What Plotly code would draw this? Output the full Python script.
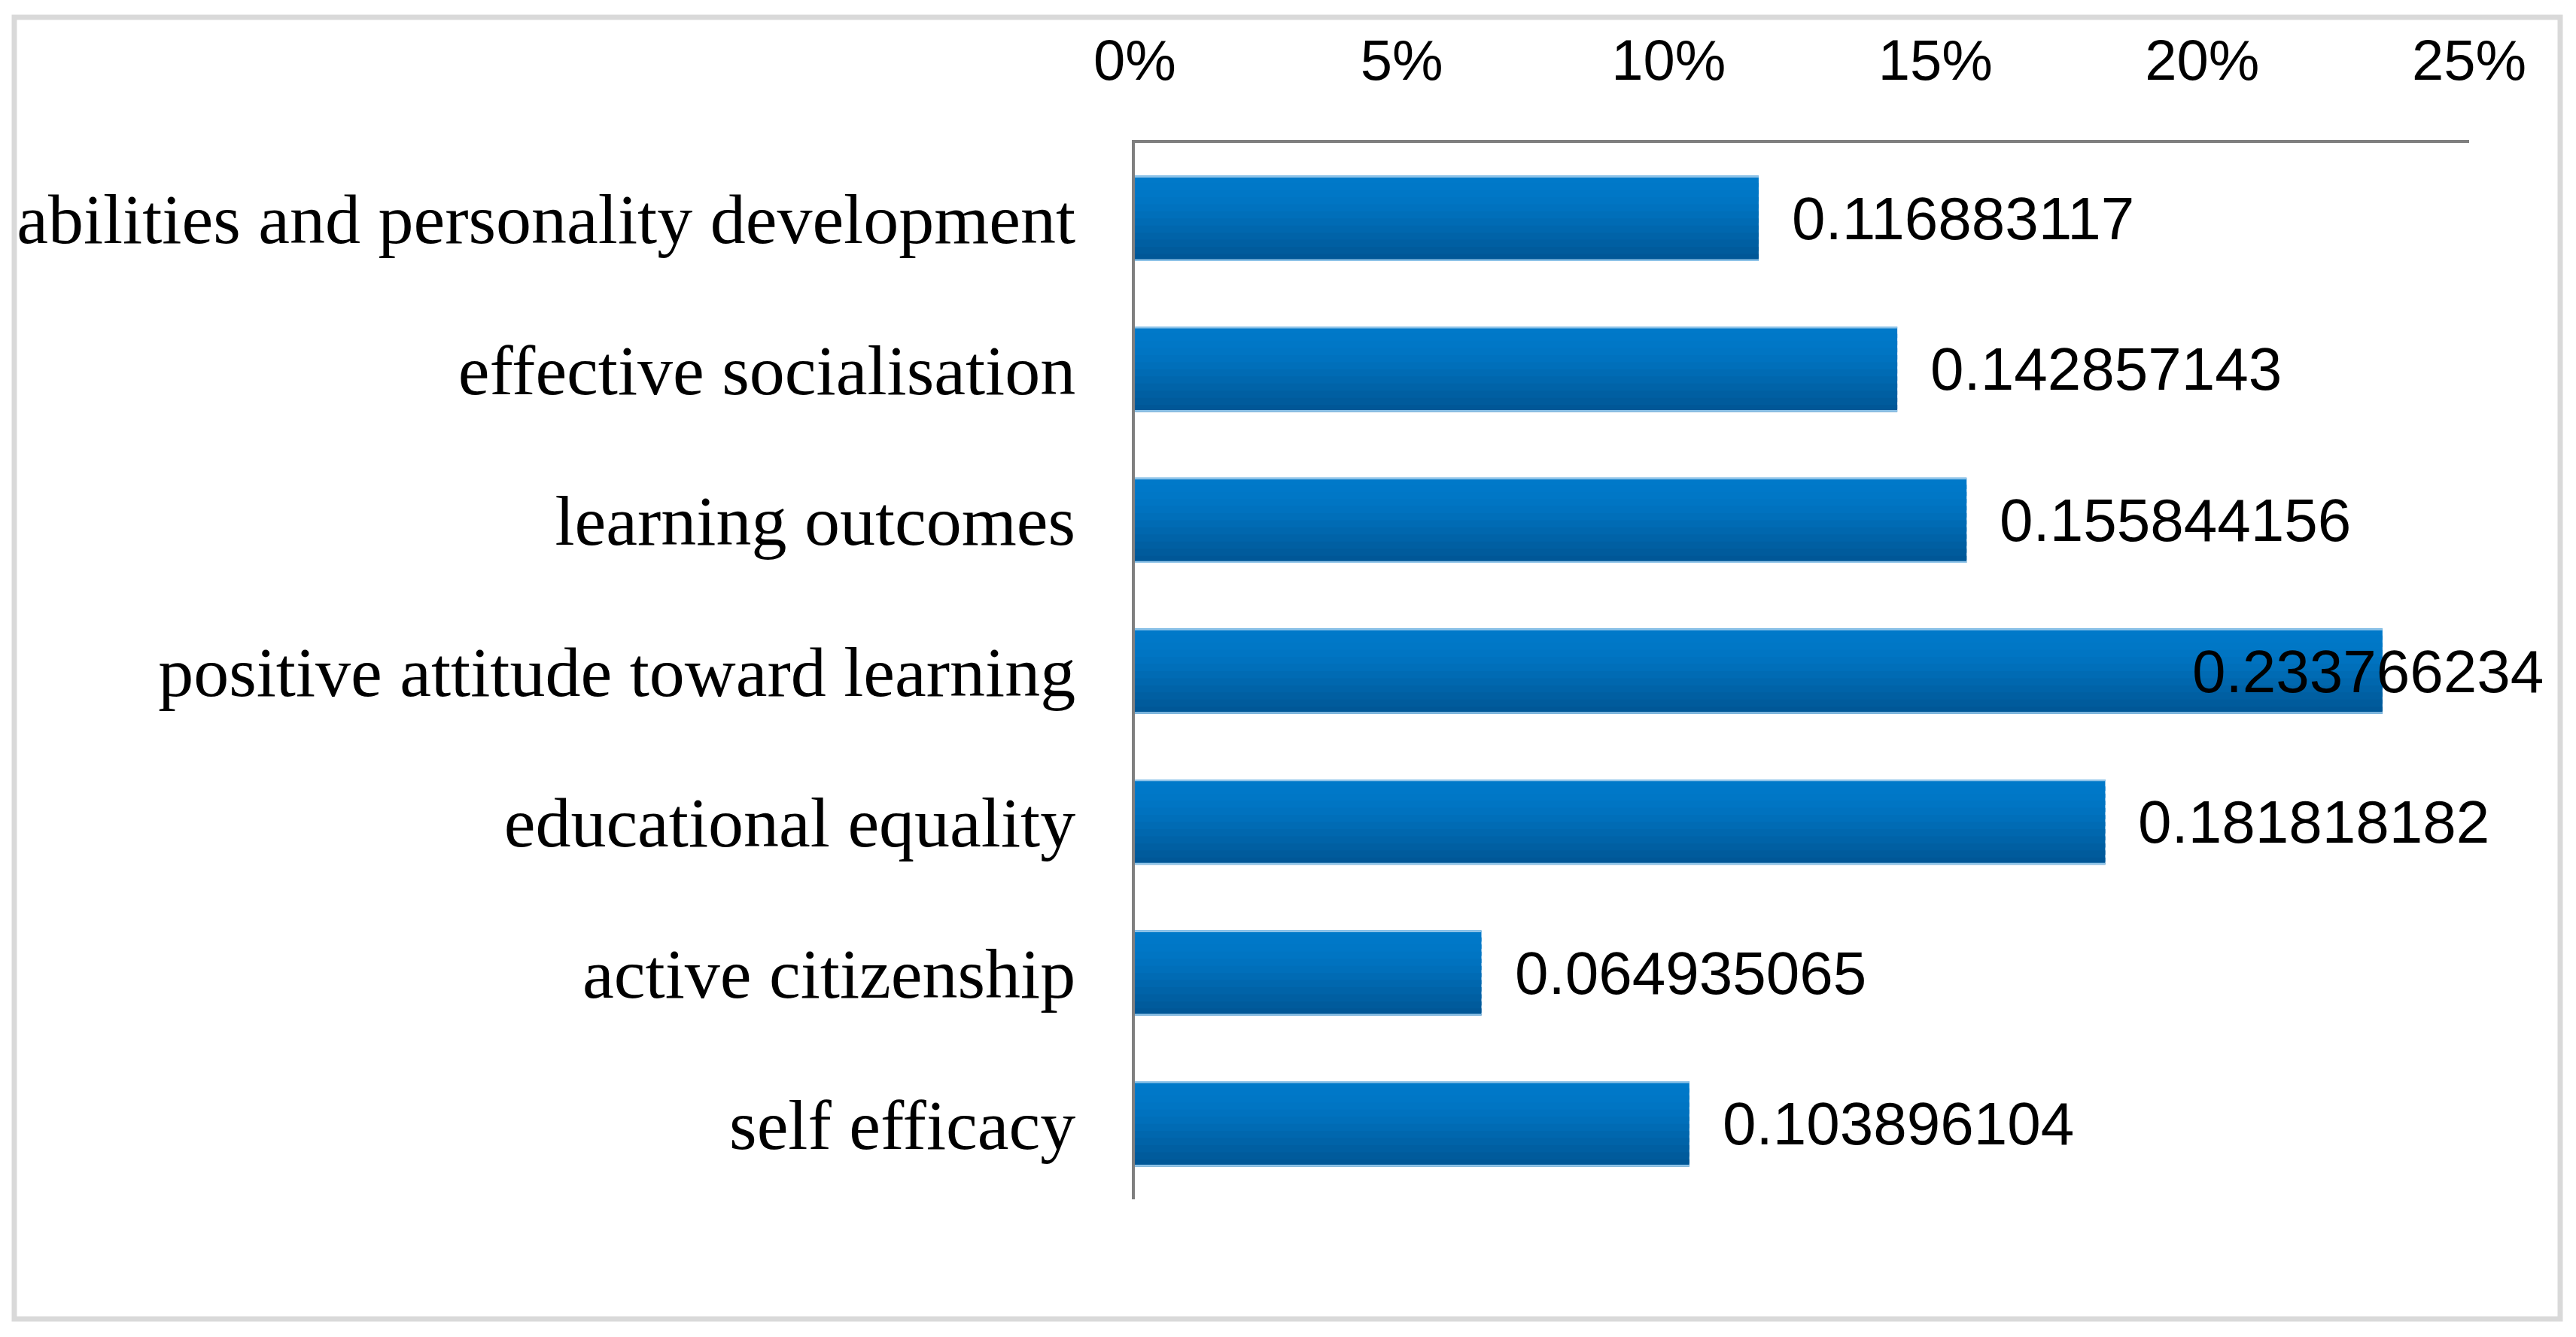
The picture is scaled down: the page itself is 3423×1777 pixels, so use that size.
import plotly.graph_objects as go

categories = ["abilities and personality development", "effective socialisation",
              "learning outcomes", "positive attitude toward learning",
              "educational equality", "active citizenship", "self efficacy"]
values = [0.116883117, 0.142857143, 0.155844156, 0.233766234,
          0.181818182, 0.064935065, 0.103896104]
value_labels = ["0.116883117", "0.142857143", "0.155844156", "0.233766234",
                "0.181818182", "0.064935065", "0.103896104"]
x_ticks = [0, 0.05, 0.10, 0.15, 0.20, 0.25]
x_tick_labels = ["0%", "5%", "10%", "15%", "20%", "25%"]

OFF = 8  # default body margin of the html page
W, H = 3423 - OFF, 1777 - OFF
L, R, T, B = 1500, 142, 182, 183
pw, ph = W - L - R, H - T - B

fig = go.Figure()

# gradient bands to mimic Excel gradient fill
band_colors = ["#0079C9", "#0078C8", "#0077C6", "#0075C3", "#0072BF", "#006FBA",
               "#006BB4", "#0067AE", "#0063A8", "#005FA2", "#005B9C", "#005797"]
bar_w = 0.565
nb = len(band_colors)
bw = bar_w / nb
for i, c in enumerate(band_colors):
    wdt = bw * 1.6 if i < nb - 1 else bw
    fig.add_trace(go.Bar(
        y=categories, x=values, orientation="h",
        width=wdt, offset=-bar_w / 2 + i * bw,
        marker=dict(color=c, line=dict(width=0)),
        hoverinfo="skip", showlegend=False))
# thin light edges top and bottom
for off in (-bar_w / 2, bar_w / 2 - 0.012):
    fig.add_trace(go.Bar(
        y=categories, x=values, orientation="h",
        width=0.012, offset=off,
        marker=dict(color="#8EC3E8", line=dict(width=0)),
        hoverinfo="skip", showlegend=False))

label_font = dict(family="Liberation Sans", size=80, color="#000000")
for cat, v, lab in zip(categories, values, value_labels):
    if v > 0.22:
        fig.add_annotation(x=v, y=cat, text=lab, showarrow=False,
                           xanchor="right", xshift=216, font=label_font)
    else:
        fig.add_annotation(x=v, y=cat, text=lab, showarrow=False,
                           xanchor="left", xshift=42, font=label_font)

# outer border
fig.add_shape(type="rect", xref="paper", yref="paper",
              x0=(11 - L) / pw, x1=(3394 - L) / pw,
              y0=(H - B - 1745) / ph, y1=(H - B - 15) / ph,
              line=dict(color="#D9D9D9", width=7), fillcolor="rgba(0,0,0,0)", layer="below")

fig.update_layout(
    width=W, height=H, barmode="overlay",
    margin=dict(l=L, r=R, t=T, b=B, pad=0),
    paper_bgcolor="white", plot_bgcolor="white",
    xaxis=dict(side="top", range=[0, 0.25], tickvals=x_ticks, ticktext=x_tick_labels,
               showgrid=False, zeroline=False, showline=True, linecolor="#7F7F7F",
               linewidth=4, ticks="", ticklabelstandoff=50,
               tickfont=dict(family="Liberation Sans", size=76, color="#000000")),
    yaxis=dict(categoryorder="array", categoryarray=categories, autorange="reversed",
               showgrid=False, zeroline=False, showline=True, linecolor="#7F7F7F",
               linewidth=4, ticks="", ticklabelstandoff=56,
               tickfont=dict(family="Liberation Serif", size=94, color="#000000")),
)

fig.write_html("out.html")
